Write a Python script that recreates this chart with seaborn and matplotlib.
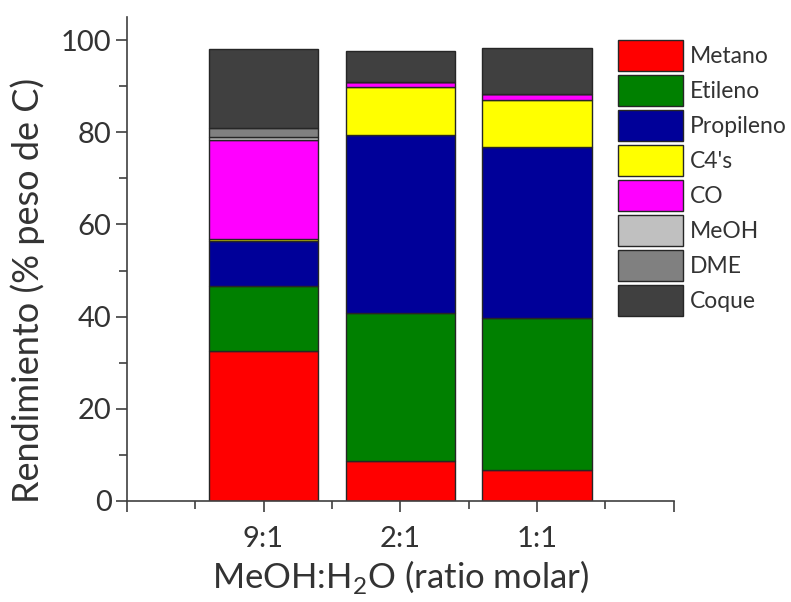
import numpy as np
import pandas as pd
import matplotlib
matplotlib.use("Agg")
import matplotlib.pyplot as plt
from matplotlib.patches import Patch
from matplotlib.ticker import FixedLocator
import seaborn as sns

# Product yields (% C weight) for each MeOH:H2O molar ratio
ratios = ["9:1", "2:1", "1:1"]
species = ["Metano", "Etileno", "Propileno", "C4's", "CO", "MeOH", "DME", "Coque"]
metano = [32.5, 8.7, 6.7]
etileno = [14.2, 32.1, 33.0]
propileno = [9.6, 38.6, 37.1]
c4s = [0.5, 10.4, 10.1]
co = [21.5, 1.1, 1.4]
meoh = [0.7, 0.0, 0.0]
dme = [2.0, 0.0, 0.0]
coque = [17.0, 6.7, 9.9]

colors = ["#ff0000", "#008000", "#000099", "#ffff00", "#ff00ff",
          "#c0c0c0", "#808080", "#404040"]

series = [metano, etileno, propileno, c4s, co, meoh, dme, coque]
df = pd.DataFrame({
    "ratio": [r for r in ratios for _ in species],
    "species": species * len(ratios),
    "value": [series[j][i] for i in range(len(ratios)) for j in range(len(species))],
})

sns.set_theme(style="white")
plt.rcParams["font.family"] = ["Lato", "DejaVu Sans"]
plt.rcParams["mathtext.fontset"] = "custom"
plt.rcParams["mathtext.rm"] = "Lato"

txt = "#333333"
edge = "#262626"

fig = plt.figure(figsize=(7.91, 6.02), dpi=100)
ax = fig.add_axes([0.1603, 0.1678, 0.8518 - 0.1603, 0.9718 - 0.1678])

# stacked bars: each layer sits on the running total of the previous ones
bottom = np.zeros(len(ratios))
for name, col in zip(species, colors):
    sub = df[df["species"] == name].set_index("ratio").loc[ratios].reset_index()
    sns.barplot(data=sub, x="ratio", y="value", order=ratios, color=col,
                width=0.8, bottom=bottom.copy(), edgecolor=edge, linewidth=1.0,
                saturation=1, errorbar=None, ax=ax)
    bottom += sub["value"].to_numpy()

ax.set_xlim(-1, 3)
ax.set_ylim(0, 105)
ax.xaxis.set_major_locator(FixedLocator([-1, 0, 1, 2, 3]))
ax.set_xticklabels(["", "9:1", "2:1", "1:1", ""])
ax.xaxis.set_minor_locator(FixedLocator([-0.5, 0.5, 1.5, 2.5]))
ax.yaxis.set_major_locator(FixedLocator([0, 20, 40, 60, 80, 100]))
ax.yaxis.set_minor_locator(FixedLocator([10, 30, 50, 70, 90]))

for side in ["top", "right"]:
    ax.spines[side].set_visible(False)
for side in ["left", "bottom"]:
    ax.spines[side].set_color("#404040")
    ax.spines[side].set_linewidth(1.2)

ax.tick_params(axis="both", which="major", direction="out", length=8, width=1.2,
               color="#404040", labelsize=21, labelcolor=txt, bottom=True, left=True)
ax.tick_params(axis="both", which="minor", direction="out", length=6, width=1.2,
               color="#404040", bottom=True, left=True)
ax.tick_params(axis="y", which="major", pad=3)
ax.tick_params(axis="x", which="major", pad=10)

ax.set_xlabel(r"MeOH:H$_\mathregular{2}$O (ratio molar)", fontsize=25, color=txt, labelpad=4)
ax.set_ylabel("Rendimiento (% peso de C)", fontsize=26, color=txt)
ax.yaxis.set_label_coords(-0.15, 0.434)

handles = [Patch(facecolor=c, edgecolor=edge, linewidth=1.0) for c in colors]
leg = ax.legend(handles, species, loc="upper left", bbox_to_anchor=(618 / 791, 1 - 40 / 602),
                bbox_transform=fig.transFigure, frameon=False, fontsize=16.5,
                handlelength=2.84, handleheight=1.706, labelspacing=0.175,
                handletextpad=0.28, borderpad=0, borderaxespad=0)
for t in leg.get_texts():
    t.set_color(txt)

fig.savefig("out.png", dpi=100)
